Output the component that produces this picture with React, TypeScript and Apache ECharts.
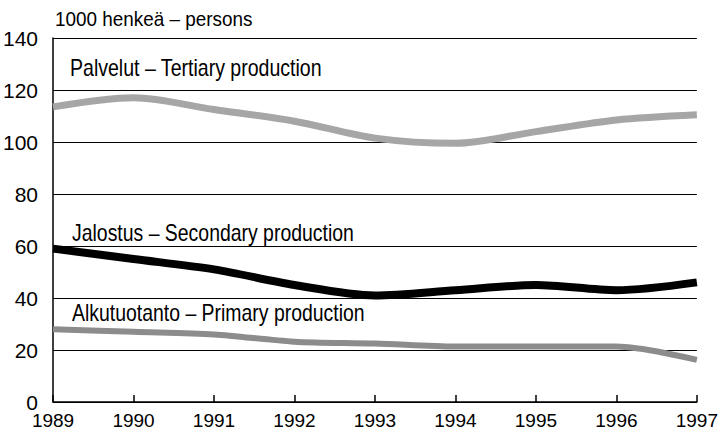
import React, { useEffect, useRef } from "react";
import * as echarts from "echarts";

const years = ["1989", "1990", "1991", "1992", "1993", "1994", "1995", "1996", "1997"];
const tertiary = [113.5, 117, 112.5, 108, 101.5, 99.5, 104, 108.5, 110.5];
const secondary = [59, 55, 51, 45, 41, 43, 45, 43, 46];
const primary = [28, 27, 26, 23.2, 22.5, 21.3, 21.3, 21.3, 16.2];
const yTicks = [0, 20, 40, 60, 80, 100, 120, 140];

const unitLabel = "1000 henkeä – persons";
const seriesNames = [
  "Palvelut – Tertiary production",
  "Jalostus – Secondary production",
  "Alkutuotanto – Primary production",
];

const FONT = "'Liberation Sans', Arial, sans-serif";

export default function App() {
  const ref = useRef<HTMLDivElement>(null);
  useEffect(() => {
    document.body.style.margin = "0";
    const chart = echarts.init(ref.current!, undefined, { renderer: "svg" });
    const label = (text: string, x: number, y: number, size: number, sx: number) => ({
      type: "text",
      x,
      y,
      scaleX: sx,
      style: { text, fontSize: size, fontFamily: FONT, fill: "#000", align: "left", verticalAlign: "middle" },
    });
    chart.setOption({
      animation: false,
      backgroundColor: "#ffffff",
      grid: { left: 53, right: 22, top: 38, bottom: 40 },
      xAxis: {
        type: "category",
        data: years,
        boundaryGap: false,
        axisLine: { show: true, lineStyle: { color: "#000", width: 1.5 } },
        axisTick: { show: true, inside: true, length: 7, lineStyle: { color: "#000", width: 1.5 } },
        axisLabel: { color: "#000", fontSize: 19, fontFamily: FONT, margin: 9 },
        splitLine: { show: false },
      },
      yAxis: {
        type: "value",
        min: yTicks[0],
        max: yTicks[yTicks.length - 1],
        interval: 20,
        axisLine: { show: true, lineStyle: { color: "#000", width: 1.5 } },
        axisTick: { show: false },
        axisLabel: { color: "#000", fontSize: 21, fontFamily: FONT, margin: 15 },
        splitLine: { show: true, lineStyle: { color: "#000", width: 1.2 } },
      },
      graphic: [
        label(unitLabel, 55, 19, 21, 0.9),
        label(seriesNames[0], 70, 68.5, 23, 0.85),
        label(seriesNames[1], 72, 233.5, 23, 0.845),
        label(seriesNames[2], 72, 313, 23, 0.845),
      ],
      series: [
        {
          name: seriesNames[0],
          type: "line",
          data: tertiary,
          smooth: 0.3,
          showSymbol: false,
          lineStyle: { color: "#a6a6a6", width: 7 },
        },
        {
          name: seriesNames[1],
          type: "line",
          data: secondary,
          smooth: 0.3,
          showSymbol: false,
          lineStyle: { color: "#000", width: 8 },
        },
        {
          name: seriesNames[2],
          type: "line",
          data: primary,
          smooth: 0.3,
          showSymbol: false,
          lineStyle: { color: "#8c8c8c", width: 6 },
        },
      ],
    });
    return () => chart.dispose();
  }, []);
  return <div ref={ref} style={{ width: 721, height: 442 }} />;
}
